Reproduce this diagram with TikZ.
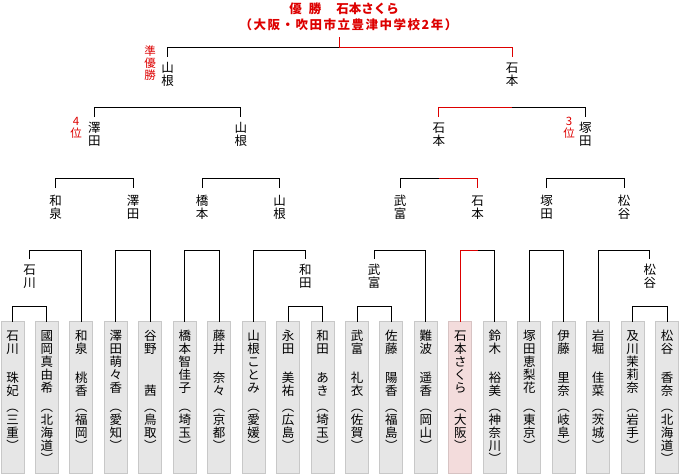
\documentclass[tikz,border=0pt]{standalone}
\usepackage{fontspec}
\newfontfamily\jp{Noto Sans CJK JP}
\definecolor{wred}{RGB}{221,0,0}
\definecolor{boxfill}{RGB}{230,230,230}
\definecolor{boxline}{RGB}{200,200,200}
\definecolor{winfill}{RGB}{243,220,220}
\definecolor{winline}{RGB}{215,195,195}
\newcommand\Tz{\rule{0pt}{11pt}}
\newcommand\player[5]{%
  \node[#3] (b#1) at (#2,397.5) {};
  \node[vt] (n#1) at (#2,329) {\Tz #4};
  \node[vt] (p#1) at (#2,400) {\Tz ︵\\#5\\︶};
}
\newcommand\mt[4]{%
  \draw ([yshift=#4]#1) -- (#1 |- 0,#3) -- (#2 |- 0,#3) -- ([yshift=#4]#2);
}
\begin{document}
\begin{tikzpicture}[x=1pt,y=-1pt,line width=1pt,
  every node/.style={inner sep=0pt,outer sep=0pt},
  pbox/.style={draw=boxline,fill=boxfill,minimum width=23pt,minimum height=152pt,line width=1pt},
  wbox/.style={pbox,draw=winline,fill=winfill},
  vt/.style={anchor=north,align=center,font=\jp\fontsize{12.5}{13}\selectfont},
  rlab/.style={anchor=north,align=center,text=wred,font=\jp\fontsize{11.5}{12}\selectfont},
  wl/.style={draw=wred}]
\useasboundingbox (0,0) rectangle (680,474);

% title
\node[text=wred,font=\jp\bfseries\fontsize{12.5}{13}\selectfont] (t1) at (344,8.5) {優\hspace{7pt}勝\hspace{15pt}石本さくら};
\node[text=wred,font=\jp\bfseries\fontsize{12.5}{13}\selectfont\addfontfeatures{LetterSpace=12}] (t2) at (348.5,25) {（大阪・吹田市立豊津中学校2年）};
\coordinate (tk) at (339.75,37);

% players
\player{0}{12.5}{pbox}{石\\川\\[16pt]珠\\妃}{三\\重}
\player{1}{46.95}{pbox}{國\\岡\\真\\由\\希}{北\\海\\道}
\player{2}{81.4}{pbox}{和\\泉\\[16pt]桃\\香}{福\\岡}
\player{3}{115.85}{pbox}{澤\\田\\萌\\々\\香}{愛\\知}
\player{4}{150.3}{pbox}{谷\\野\\[29pt]茜}{鳥\\取}
\player{5}{184.75}{pbox}{橋\\本\\智\\佳\\子}{埼\\玉}
\player{6}{219.2}{pbox}{藤\\井\\[16pt]奈\\々}{京\\都}
\player{7}{253.65}{pbox}{山\\根\\こ\\と\\み}{愛\\媛}
\player{8}{288.1}{pbox}{永\\田\\[16pt]美\\祐}{広\\島}
\player{9}{322.55}{pbox}{和\\田\\[16pt]あ\\き}{埼\\玉}
\player{10}{357.0}{pbox}{武\\富\\[16pt]礼\\衣}{佐\\賀}
\player{11}{391.45}{pbox}{佐\\藤\\[16pt]陽\\香}{福\\島}
\player{12}{425.9}{pbox}{難\\波\\[16pt]遥\\香}{岡\\山}
\player{13}{460.35}{wbox}{石\\本\\さ\\く\\ら}{大\\阪}
\player{14}{494.8}{pbox}{鈴\\木\\[16pt]裕\\美}{神\\奈\\川}
\player{15}{529.25}{pbox}{塚\\田\\恵\\梨\\花}{東\\京}
\player{16}{563.7}{pbox}{伊\\藤\\[16pt]里\\奈}{岐\\阜}
\player{17}{598.15}{pbox}{岩\\堀\\[16pt]佳\\菜}{茨\\城}
\player{18}{632.6}{pbox}{及\\川\\茉\\莉\\奈}{岩\\手}
\player{19}{667.05}{pbox}{松\\谷\\[16pt]香\\奈}{北\\海\\道}

% round labels
\node[vt] (r2a) at (29.7,263) {\Tz 石\\川};
\node[vt] (r2b) at (305.3,263) {\Tz 和\\田};
\node[vt] (r2c) at (374.2,263) {\Tz 武\\富};
\node[vt] (r2d) at (649.8,263) {\Tz 松\\谷};

\node[vt] (r3a) at (55.5,194) {\Tz 和\\泉};
\node[vt] (r3b) at (133.1,194) {\Tz 澤\\田};
\node[vt] (r3c) at (202,194) {\Tz 橋\\本};
\node[vt] (r3d) at (279.5,194) {\Tz 山\\根};
\node[vt] (r3e) at (400,194) {\Tz 武\\富};
\node[vt] (r3f) at (477.6,194) {\Tz 石\\本};
\node[vt] (r3g) at (546.5,194) {\Tz 塚\\田};
\node[vt] (r3h) at (624,194) {\Tz 松\\谷};

\node[vt] (r4a) at (94.3,121) {\Tz 澤\\田};
\node[vt] (r4b) at (240.75,121) {\Tz 山\\根};
\node[vt] (r4c) at (438.8,121) {\Tz 石\\本};
\node[vt] (r4d) at (585.25,121) {\Tz 塚\\田};

\node[vt] (f1) at (167.5,61) {\Tz 山\\根};
\node[vt] (f2) at (512,61) {\Tz 石\\本};

\node[rlab] (ru) at (150,44) {\Tz 準\\優\\勝};
\node[rlab] (r4th) at (76,114) {\Tz 4\\位};
\node[rlab] (r3rd) at (569,114) {\Tz 3\\位};

% round 1
\mt{b0.north}{b1.north}{306.5}{0pt}
\mt{b8.north}{b9.north}{306.5}{0pt}
\mt{b10.north}{b11.north}{306.5}{0pt}
\mt{b18.north}{b19.north}{306.5}{0pt}

% round 2
\draw ([yshift=4pt]r2a.north) -- (r2a.north |- 0,250.5) -- (b2.north |- 0,250.5) -- (b2.north);
\mt{b3.north}{b4.north}{250.5}{0pt}
\mt{b5.north}{b6.north}{250.5}{0pt}
\draw (b7.north) -- (b7.north |- 0,250.5) -- (r2b.north |- 0,250.5) -- ([yshift=4pt]r2b.north);
\draw ([yshift=4pt]r2c.north) -- (r2c.north |- 0,250.5) -- (b12.north |- 0,250.5) -- (b12.north);
\draw[wl] (b13.north) -- (b13.north |- 0,250.5) -- (r3f.north |- 0,250.5);
\draw (r3f.north |- 0,250.5) -- (b14.north |- 0,250.5) -- (b14.north);
\mt{b15.north}{b16.north}{250.5}{0pt}
\draw (b17.north) -- (b17.north |- 0,250.5) -- (r2d.north |- 0,250.5) -- ([yshift=4pt]r2d.north);

% round 3
\mt{r3a.north}{r3b.north}{178.5}{6pt}
\mt{r3c.north}{r3d.north}{178.5}{6pt}
\draw ([yshift=6pt]r3e.north) -- (r3e.north |- 0,178.5) -- (r4c.north |- 0,178.5);
\draw[wl] (r4c.north |- 0,178.5) -- (r3f.north |- 0,178.5) -- ([yshift=6pt]r3f.north);
\mt{r3g.north}{r3h.north}{178.5}{6pt}

% round 4
\mt{r4a.north}{r4b.north}{107.5}{4pt}
\draw[wl] ([yshift=4pt]r4c.north) -- (r4c.north |- 0,107.5) -- (f2.north |- 0,107.5);
\draw (f2.north |- 0,107.5) -- (r4d.north |- 0,107.5) -- ([yshift=4pt]r4d.north);

% final
\draw (tk |- 0,47.5) -- (f1.north |- 0,47.5) -- ([yshift=4pt]f1.north);
\draw[wl] (tk) -- (tk |- 0,47.5) -- (f2.north |- 0,47.5) -- ([yshift=4pt]f2.north);
\end{tikzpicture}
\end{document}
